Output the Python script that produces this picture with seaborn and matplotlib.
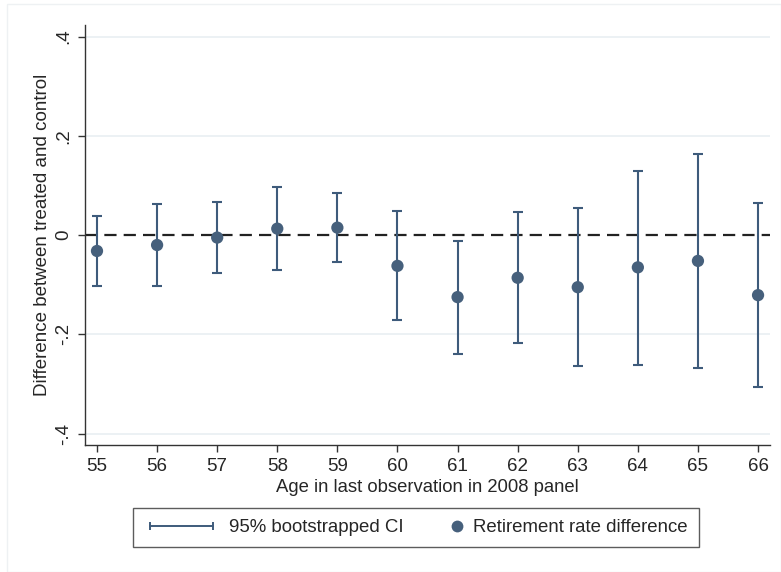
import numpy as np
import pandas as pd
import matplotlib
matplotlib.use("Agg")
import matplotlib.pyplot as plt
import seaborn as sns
from matplotlib.lines import Line2D
from matplotlib.legend_handler import HandlerLine2D
from matplotlib.patches import Rectangle

# dados
idade = [55, 56, 57, 58, 59, 60, 61, 62, 63, 64, 65, 66]
diferenca = [-0.032, -0.020, -0.005, 0.013, 0.015, -0.062, -0.125, -0.086, -0.105, -0.065, -0.052, -0.121]
ic_sup = [0.038, 0.062, 0.066, 0.097, 0.085, 0.049, -0.012, 0.047, 0.054, 0.130, 0.163, 0.064]
ic_inf = [-0.103, -0.102, -0.076, -0.071, -0.054, -0.172, -0.239, -0.218, -0.263, -0.261, -0.267, -0.306]
yticks = [-0.4, -0.2, 0, 0.2, 0.4]
ytick_labels = ["-.4", "-.2", "0", ".2", ".4"]

sns.set_style("white")
plt.rcParams['font.family'] = ['Liberation Sans', 'DejaVu Sans']

cor_ponto = "#46607c"
cor_barra = "#3e5b7b"


class MarcadorDireita(HandlerLine2D):
    """Coloca o marcador perto do fim da caixa do símbolo"""
    def get_xdata(self, legend, xdescent, ydescent, width, height, fontsize):
        pos = np.array([-xdescent + width - 0.32 * fontsize])
        return pos, pos


df = pd.DataFrame({"idade": idade, "dif": diferenca, "sup": ic_sup, "inf": ic_inf})

fig = plt.figure(figsize=(7.81, 5.72), dpi=100)
ax = fig.add_axes([0.1088, 0.222, 0.8772, 0.734])

# grade horizontal clara
for yt in yticks:
    if yt != 0:
        ax.axhline(yt, color="#e9eff2", lw=1.2, zorder=0)

ax.axhline(0, color="#222222", lw=1.6, ls=(0, (5.5, 3.2)), zorder=1)

yerr = np.array([df["dif"] - df["inf"], df["sup"] - df["dif"]])
ax.errorbar(df["idade"], df["dif"], yerr=yerr, fmt="none", ecolor=cor_barra,
            elinewidth=1.5, capsize=3.5, capthick=1.5, zorder=2)
sns.scatterplot(data=df, x="idade", y="dif", ax=ax, color=cor_ponto, s=78,
                edgecolor="none", zorder=3, legend=False)

ax.set_xlim(54.8, 66.2)
ax.set_ylim(-0.423, 0.423)
ax.set_xticks(idade)
ax.set_xticklabels([str(i) for i in idade], fontsize=13.5)
ax.set_yticks(yticks)
ax.set_yticklabels(ytick_labels, fontsize=13.5, rotation=90, va="center")
ax.tick_params(axis="both", direction="out", length=5, width=1, color="#333333",
               bottom=True, left=True, pad=4)
for s in ["top", "right"]:
    ax.spines[s].set_visible(False)
for s in ["left", "bottom"]:
    ax.spines[s].set_color("#333333")
    ax.spines[s].set_linewidth(1)

ax.set_xlabel("Age in last observation in 2008 panel", fontsize=13.3, labelpad=3)
ax.set_ylabel("Difference between treated and control", fontsize=13.5, labelpad=3)

h_ic = Line2D([0], [0], color=cor_barra, lw=1.4, marker="|", markersize=5.5,
              markeredgewidth=1.4)
h_pt = Line2D([0], [0], color=cor_ponto, lw=0, marker="o", markersize=8.5,
              markeredgewidth=0)
leg = fig.legend([h_ic, h_pt], ["95% bootstrapped CI", "Retirement rate difference"],
                 handler_map={h_ic: HandlerLine2D(numpoints=2),
                              h_pt: MarcadorDireita(numpoints=2)},
                 loc="center", bbox_to_anchor=(416 / 781, 1 - 527.7 / 572), ncol=2,
                 fontsize=13.4, frameon=True, fancybox=False, edgecolor="#333333",
                 handlelength=3.98, handletextpad=0.57, columnspacing=-0.79,
                 borderpad=0.58)
leg.get_frame().set_linewidth(1)

# moldura externa clara
fig.patches.append(Rectangle((7 / 781, 0.0), 1 - 7 / 781, 1 - 4 / 572,
                             transform=fig.transFigure, fill=False,
                             edgecolor="#eef1f3", lw=1))

fig.savefig("out.png", dpi=100)
